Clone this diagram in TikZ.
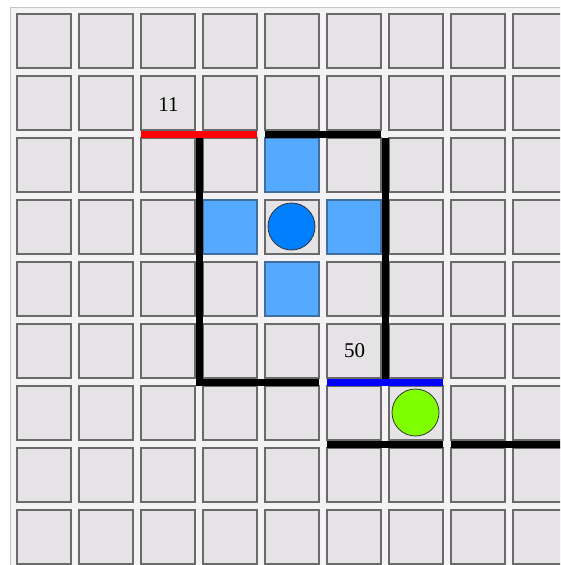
\documentclass[tikz,border=0pt]{standalone}
\usepackage{fontspec}
\setmainfont{Liberation Serif}
\definecolor{bgc}{HTML}{F4F2F5}
\definecolor{framec}{HTML}{C4C4C4}
\definecolor{cellc}{HTML}{E5E3E5}
\definecolor{celldraw}{HTML}{6A6A6A}
\definecolor{lblue}{HTML}{55AAFF}
\definecolor{lbluedraw}{HTML}{3F6F9F}
\definecolor{dblue}{HTML}{0080FF}
\definecolor{lgreen}{HTML}{80FF00}
\definecolor{wallred}{HTML}{FF0000}
\definecolor{wallblue}{HTML}{0000FF}
\tikzset{
  cellbox/.style={fill=cellc, draw=celldraw, line width=1.2pt},
  bluecell/.style={fill=lblue, draw=lbluedraw, line width=1.2pt},
  wall/.style={fill=black, draw=none},
  agent/.style={circle, draw=black!80, line width=0.8pt, minimum size=47pt, inner sep=0pt},
  lbl/.style={font=\fontsize{21}{23}\selectfont, inner sep=0pt}
}
\begin{document}
\begin{tikzpicture}[x=1pt,y=-1pt]
\useasboundingbox (0,0) rectangle (560,565);
\clip (0,0) rectangle (560,565);
\fill[white] (0,0) rectangle (560,565);
\draw[fill=bgc, draw=framec, line width=1pt] (10.5,7.5) rectangle (600,600);
% grid of cells
\foreach \i in {0,...,8}{
  \foreach \j in {0,...,8}{
    \draw[cellbox] ({17+62*\i},{14+62*\j}) rectangle ++(54,54);
  }
}
% light blue cells
\draw[bluecell] (265,138) rectangle ++(54,54);
\draw[bluecell] (203,200) rectangle ++(54,54);
\draw[bluecell] (327,200) rectangle ++(54,54);
\draw[bluecell] (265,262) rectangle ++(54,54);
% walls
\fill[wallred] (141,130.5) rectangle (257,137.5);
\fill[wall] (265,130.5) rectangle (381,137.5);
\fill[wall] (195.5,137.5) rectangle (202.5,385.5);
\fill[wall] (381.5,137.5) rectangle (388.5,378.5);
\fill[wall] (202.5,378.5) rectangle (319,385.5);
\fill[wallblue] (327,378.5) rectangle (443,385.5);
\fill[wall] (327,440.5) rectangle (443,447.5);
\fill[wall] (451,440.5) rectangle (600,447.5);
% agents
\node[agent, fill=dblue] (bluecirc) at (291.5,226.5) {};
\node[agent, fill=lgreen] (greencirc) at (415.5,412.5) {};
% labels
\node[lbl] (l11) at (168.5,104.5) {11};
\node[lbl] (l50) at (354.5,351) {50};
\end{tikzpicture}
\end{document}
